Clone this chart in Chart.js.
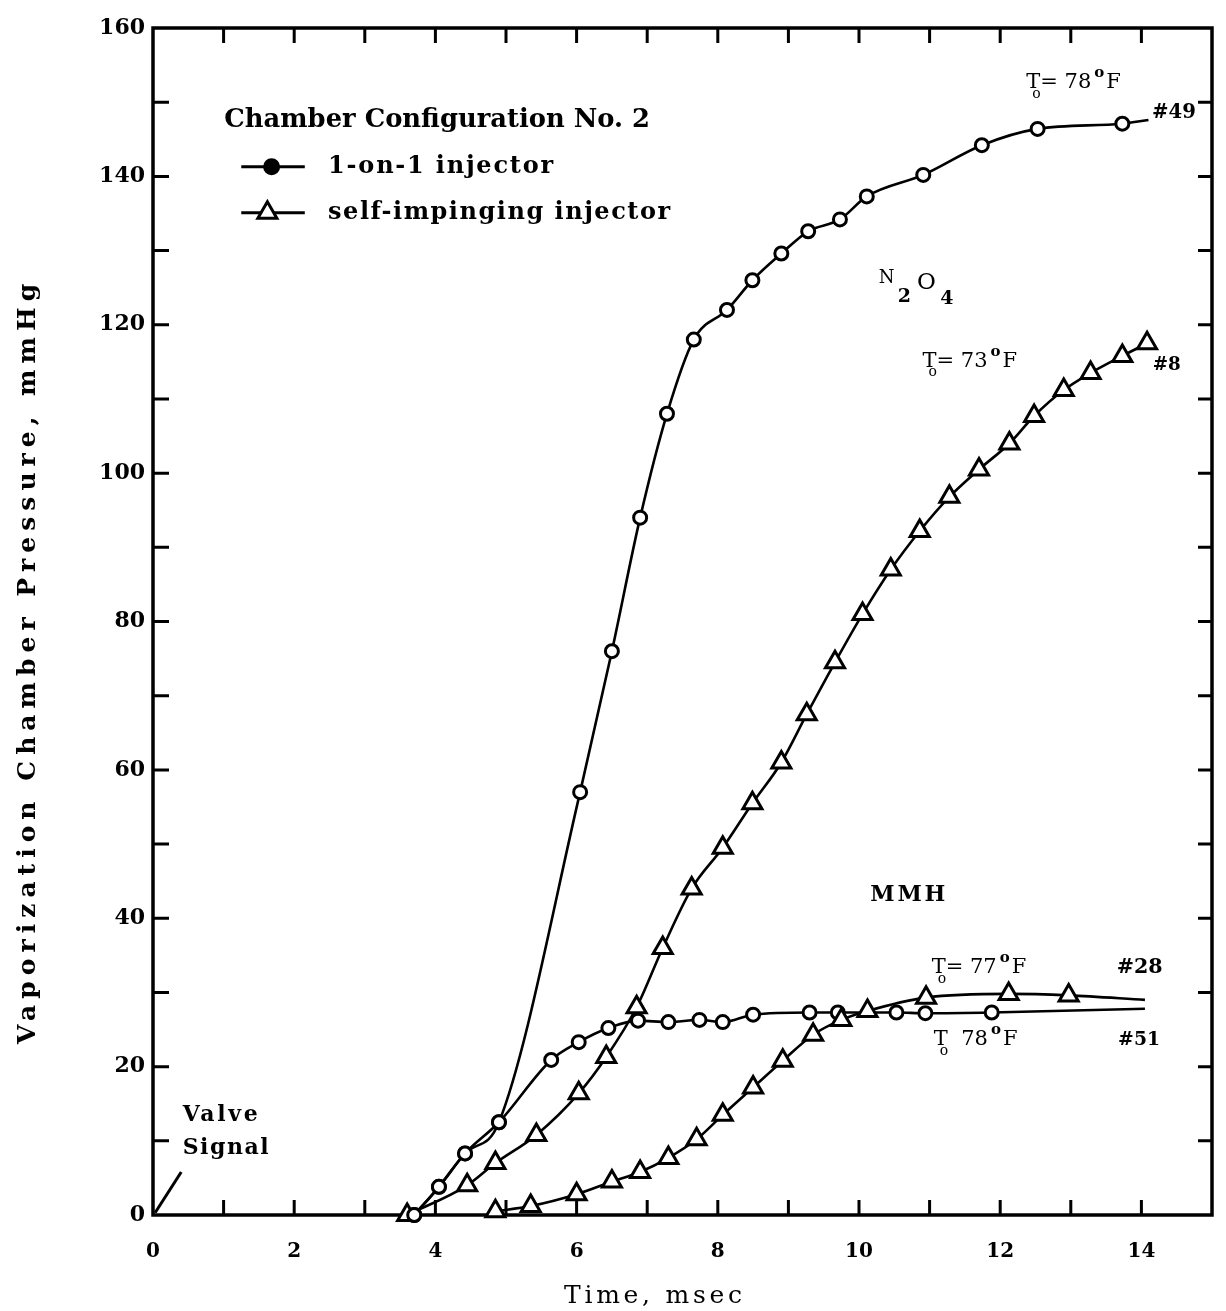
<!DOCTYPE html>
<html>
<head>
<meta charset="utf-8">
<title>Vaporization chamber pressure</title>
<style>
  html, body { margin: 0; padding: 0; background: #fff; }
  canvas { display: block; }
</style>
</head>
<body>
<canvas id="chart" width="1226" height="1311" style="width:1226px;height:1311px"></canvas>
<script src="https://cdn.jsdelivr.net/npm/chart.js@4/dist/chart.umd.min.js"></script>
<script>
// Axis ticks
const xTicks = [0, 2, 4, 6, 8, 10, 12, 14];
const xTickLabels = ['0', '2', '4', '6', '8', '10', '12', '14'];
const yTicks = [0, 20, 40, 60, 80, 100, 120, 140, 160];
const yTickLabels = ['0', '20', '40', '60', '80', '100', '120', '140', '160'];
const xMarks = [1, 2, 3, 4, 5, 6, 7, 8, 9, 10, 11, 12, 13, 14];
const yMarks = [10, 20, 30, 40, 50, 60, 70, 80, 90, 100, 110, 120, 130, 140, 150];

// N2O4, 1-on-1 injector (#49, To = 78 F) - last entry is the end of the curve
const n2o4OneTime = [3.7, 4.05, 4.42, 4.9, 6.05, 6.5, 6.9, 7.28, 7.66, 8.13, 8.49, 8.9, 9.28, 9.73, 10.11, 10.91, 11.74, 12.53, 13.73, 14.1];
const n2o4OnePress = [0, 3.8, 8.3, 12.5, 57, 76, 94, 108, 118, 122, 126, 129.6, 132.6, 134.2, 137.3, 140.2, 144.2, 146.4, 147.1, 147.6];

// N2O4, self-impinging injector (#8, To = 73 F)
const n2o4SelfTime = [3.6, 4.45, 4.85, 5.43, 6.03, 6.42, 6.85, 7.22, 7.63, 8.07, 8.49, 8.9, 9.26, 9.66, 10.05, 10.45, 10.86, 11.28, 11.7, 12.13, 12.48, 12.9, 13.28, 13.73, 14.08];
const n2o4SelfPress = [0, 4, 7, 10.8, 16.4, 21.3, 28, 36, 44, 49.5, 55.5, 61, 67.5, 74.5, 81, 87, 92.2, 96.8, 100.5, 104, 107.7, 111.2, 113.5, 115.8, 117.5];

// MMH, self-impinging injector (#28, To = 77 F) - last entry is the end of the curve
const mmhSelfTime = [4.85, 5.35, 6.0, 6.5, 6.9, 7.3, 7.7, 8.07, 8.5, 8.92, 9.35, 9.75, 10.12, 10.95, 12.12, 12.97, 14.05];
const mmhSelfPress = [0.5, 1.2, 2.8, 4.5, 5.8, 7.7, 10.2, 13.5, 17.2, 20.8, 24.3, 26.3, 27.5, 29.3, 29.8, 29.6, 29];

// MMH, 1-on-1 injector (#51, To = 78 F) - last entry is the end of the curve
const mmhOneTime = [3.7, 4.05, 4.42, 4.9, 5.64, 6.03, 6.45, 6.87, 7.3, 7.74, 8.07, 8.5, 9.3, 9.7, 10.53, 10.94, 11.88, 14.05];
const mmhOnePress = [0, 3.8, 8.3, 12.5, 20.9, 23.3, 25.2, 26.2, 26, 26.3, 26, 27, 27.3, 27.3, 27.3, 27.2, 27.3, 27.8];

const SERIF = '"DejaVu Serif", "Liberation Serif", serif';

function toPoints(xs, ys) {
  return xs.map((v, i) => ({ x: v, y: ys[i] }));
}

function makeSet(label, xs, ys, shape, lineEnd) {
  const n = xs.length;
  const r = shape === 'triangle' ? 11 : 6.5;
  return {
    label: label,
    data: toPoints(xs, ys),
    showLine: true,
    borderColor: '#000',
    borderWidth: 2.6,
    cubicInterpolationMode: 'monotone',
    pointStyle: shape,
    pointRadius: ctx => (lineEnd && ctx.dataIndex === n - 1) ? 0 : r,
    pointBorderWidth: 3,
    pointBorderColor: '#000',
    pointBackgroundColor: '#fff',
    clip: false
  };
}

// draw text across a given width: grow the font up to maxSize, then spread the rest
function fitText(ctx, str, x, y, width, weight, maxSize, align) {
  ctx.letterSpacing = '0px';
  ctx.font = weight + ' 20px ' + SERIF;
  let w = ctx.measureText(str).width;
  const size = Math.min(maxSize, 20 * width / w);
  ctx.font = weight + ' ' + size.toFixed(1) + 'px ' + SERIF;
  w = ctx.measureText(str).width;
  const gap = str.length > 1 ? Math.max(0, (width - w) / (str.length - 1)) : 0;
  ctx.letterSpacing = gap.toFixed(2) + 'px';
  ctx.textAlign = 'left';
  const left = align === 'center' ? x - width / 2 : x;
  ctx.fillText(str, left, y);
  ctx.letterSpacing = '0px';
}

// "To= 78°F" style label
function tempLabel(ctx, x, y, deg, eq) {
  ctx.textAlign = 'left';
  ctx.textBaseline = 'middle';
  ctx.letterSpacing = '0px';
  ctx.font = '21px ' + SERIF;
  ctx.fillText('T', x, y);
  let cx = x + ctx.measureText('T').width;
  ctx.font = '14px ' + SERIF;
  ctx.fillText('o', cx - 8, y + 11);
  ctx.font = '21px ' + SERIF;
  const s = (eq ? '= ' : '  ') + deg;
  ctx.fillText(s, cx, y);
  cx += ctx.measureText(s).width + 3;
  ctx.font = 'bold 15px ' + SERIF;
  ctx.fillText('o', cx, y - 10);
  cx += ctx.measureText('o').width + 2;
  ctx.font = '21px ' + SERIF;
  ctx.fillText('F', cx, y);
}

function drawCircleMark(ctx, x, y, filled) {
  ctx.beginPath();
  ctx.arc(x, y, 7, 0, Math.PI * 2);
  ctx.fillStyle = filled ? '#000' : '#fff';
  ctx.fill();
  ctx.lineWidth = 3;
  ctx.stroke();
  ctx.fillStyle = '#000';
}

function drawTriangleMark(ctx, x, y) {
  const r = 11;
  ctx.beginPath();
  for (let i = 0; i < 3; i++) {
    const a = i * 2 * Math.PI / 3;
    const px = x + Math.sin(a) * r, py = y - Math.cos(a) * r;
    if (i === 0) ctx.moveTo(px, py); else ctx.lineTo(px, py);
  }
  ctx.closePath();
  ctx.fillStyle = '#fff';
  ctx.fill();
  ctx.lineWidth = 3;
  ctx.stroke();
  ctx.fillStyle = '#000';
}

// box round the plot with inward ticks on all four sides
const framePlugin = {
  id: 'frame',
  beforeDatasetsDraw(chart) {
    const { ctx, chartArea: a, scales: { x, y } } = chart;
    ctx.save();
    ctx.strokeStyle = '#000';
    ctx.lineWidth = 3.5;
    ctx.strokeRect(a.left, a.top, a.right - a.left, a.bottom - a.top);
    ctx.lineWidth = 3;
    ctx.beginPath();
    xMarks.forEach(v => {
      const px = x.getPixelForValue(v);
      ctx.moveTo(px, a.bottom); ctx.lineTo(px, a.bottom - 15);
      ctx.moveTo(px, a.top); ctx.lineTo(px, a.top + 15);
    });
    yMarks.forEach(v => {
      const py = y.getPixelForValue(v);
      ctx.moveTo(a.left, py); ctx.lineTo(a.left + 16, py);
      ctx.moveTo(a.right, py); ctx.lineTo(a.right - 14, py);
    });
    ctx.stroke();
    ctx.restore();
  }
};

// titles, legend and curve notes
const notesPlugin = {
  id: 'notes',
  afterDraw(chart) {
    const { ctx, scales: { x, y } } = chart;
    const X = v => x.getPixelForValue(v);
    const Y = v => y.getPixelForValue(v);
    ctx.save();
    ctx.fillStyle = '#000';
    ctx.strokeStyle = '#000';
    ctx.textBaseline = 'middle';

    // axis titles
    ctx.save();
    ctx.translate(28, 664);
    ctx.rotate(-Math.PI / 2);
    fitText(ctx, 'Vaporization Chamber Pressure, mmHg', 0, 0, 760, 'bold', 25, 'center');
    ctx.restore();
    fitText(ctx, 'Time, msec', 653, 1296, 178, 'normal', 25, 'center');

    // legend
    fitText(ctx, 'Chamber Configuration No. 2', X(1.01), Y(147.6), 425, 'bold', 26);
    ctx.lineWidth = 3;
    ctx.beginPath();
    ctx.moveTo(X(1.25), Y(141.3)); ctx.lineTo(X(2.15), Y(141.3));
    ctx.moveTo(X(1.25), Y(135.1)); ctx.lineTo(X(2.15), Y(135.1));
    ctx.stroke();
    drawCircleMark(ctx, X(1.68), Y(141.3), true);
    drawTriangleMark(ctx, X(1.62), Y(135.1));
    fitText(ctx, '1-on-1 injector', X(2.48), Y(141.3), 225, 'bold', 24);
    fitText(ctx, 'self-impinging injector', X(2.48), Y(135.1), 342, 'bold', 24);

    // N2O4 notes
    tempLabel(ctx, X(12.37), Y(152.6), '78', true);
    fitText(ctx, '#49', X(14.15), Y(148.6), 44, 'bold', 22);
    ctx.letterSpacing = '0px';
    ctx.font = '18px ' + SERIF;
    ctx.fillText('N', X(10.28), Y(126.3));
    ctx.font = '23px ' + SERIF;
    ctx.fillText('O', X(10.82), Y(125.6));
    ctx.font = 'bold 19px ' + SERIF;
    ctx.fillText('2', X(10.55), Y(123.7));
    ctx.fillText('4', X(11.15), Y(123.5));
    tempLabel(ctx, X(10.9), Y(115), '73', true);
    fitText(ctx, '#8', X(14.16), Y(114.6), 28, 'bold', 22);

    // MMH notes
    fitText(ctx, 'MMH', X(10.16), Y(43.1), 75, 'bold', 22);
    tempLabel(ctx, X(11.03), Y(33.3), '77', true);
    tempLabel(ctx, X(11.06), Y(23.6), '78', false);
    fitText(ctx, '#28', X(13.65), Y(33.3), 46, 'bold', 21);
    fitText(ctx, '#51', X(13.67), Y(23.6), 42, 'bold', 21);

    // valve signal
    fitText(ctx, 'Valve', X(0.42), Y(13.5), 75, 'bold', 22);
    fitText(ctx, 'Signal', X(0.42), Y(9.0), 86, 'bold', 22);
    ctx.lineWidth = 3;
    ctx.beginPath();
    ctx.moveTo(X(0.03), Y(0.3));
    ctx.lineTo(X(0.4), Y(5.8));
    ctx.stroke();
    ctx.restore();
  }
};

new Chart(document.getElementById('chart'), {
  type: 'scatter',
  data: {
    datasets: [
      makeSet('N2O4 1-on-1 injector', n2o4OneTime, n2o4OnePress, 'circle', true),
      makeSet('N2O4 self-impinging injector', n2o4SelfTime, n2o4SelfPress, 'triangle', false),
      makeSet('MMH self-impinging injector', mmhSelfTime, mmhSelfPress, 'triangle', true),
      makeSet('MMH 1-on-1 injector', mmhOneTime, mmhOnePress, 'circle', true)
    ]
  },
  options: {
    responsive: false,
    animation: false,
    devicePixelRatio: 1,
    layout: { padding: { top: 28, right: 3, left: 0, bottom: 0 } },
    plugins: {
      legend: { display: false },
      tooltip: { enabled: false }
    },
    scales: {
      x: {
        type: 'linear',
        min: 0,
        max: 15,
        afterBuildTicks: s => { s.ticks = xTicks.map(v => ({ value: v })); },
        afterFit: s => { s.height = 96; },
        ticks: {
          callback: v => xTickLabels[xTicks.indexOf(v)],
          font: { family: SERIF, size: 20, weight: 'bold' },
          color: '#000',
          padding: 25,
          maxRotation: 0,
          autoSkip: false
        },
        grid: { display: false, drawTicks: false },
        border: { display: false }
      },
      y: {
        type: 'linear',
        min: 0,
        max: 160,
        afterBuildTicks: s => { s.ticks = yTicks.map(v => ({ value: v })); },
        afterFit: s => { s.width = 153; },
        ticks: {
          callback: v => yTickLabels[yTicks.indexOf(v)],
          font: { family: SERIF, size: 22, weight: 'bold' },
          color: '#000',
          padding: 8,
          autoSkip: false
        },
        grid: { display: false, drawTicks: false },
        border: { display: false }
      }
    }
  },
  plugins: [framePlugin, notesPlugin]
});
</script>
</body>
</html>
